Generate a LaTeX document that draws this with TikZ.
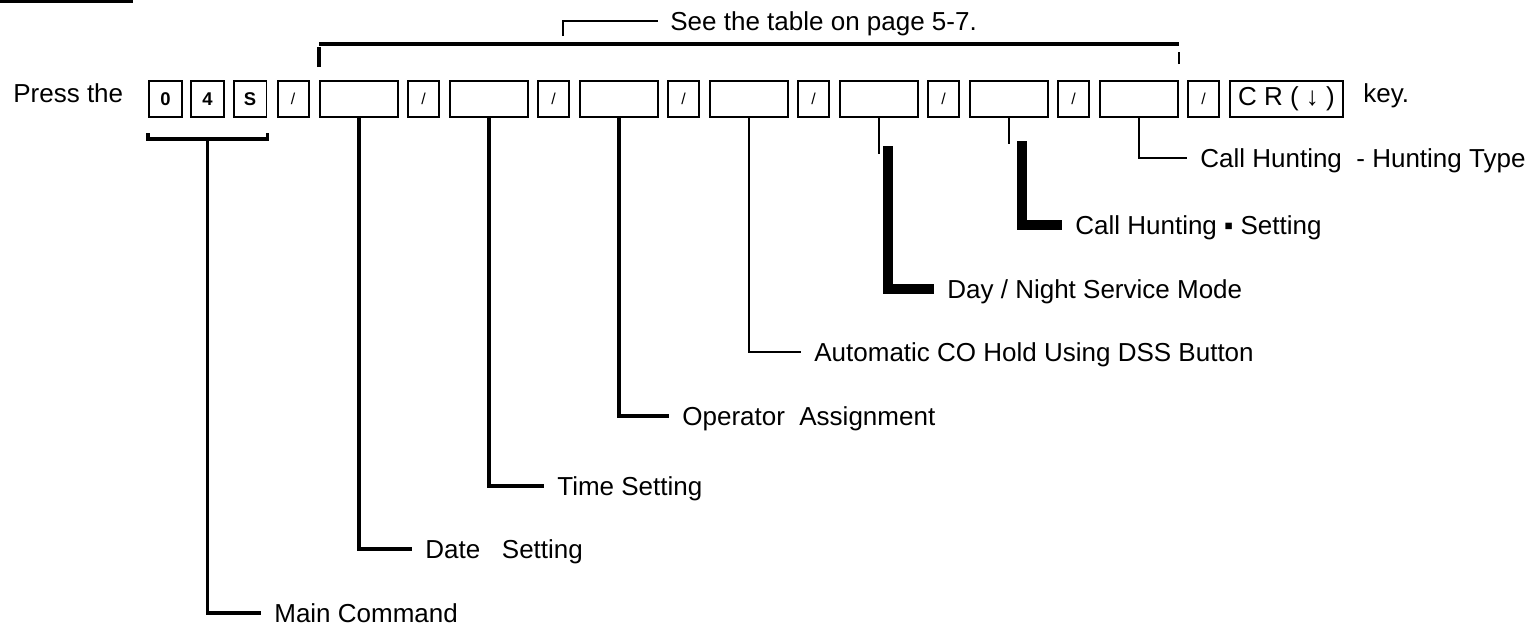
\documentclass[tikz,border=0pt]{standalone}
\usepackage{fontspec}
\setmainfont{Liberation Sans}

\tikzset{
  key/.style={draw, line width=0.04cm, minimum width=0.66cm, minimum height=0.72cm, inner sep=0pt, font=\bfseries\fontsize{10.5}{12}\selectfont},
  slashkey/.style={key, minimum width=0.62cm, font=\fontsize{9}{10}\selectfont},
  entry/.style={draw, line width=0.04cm, minimum width=1.56cm, minimum height=0.72cm, inner sep=0pt},
  crkey/.style={draw, line width=0.04cm, minimum width=2.26cm, minimum height=0.72cm, inner sep=0pt},
  lbl/.style={anchor=west, inner sep=0pt, text height=10.6pt, text depth=0pt},
  lead/.style={line width=0.07cm},
  thinlead/.style={line width=0.04cm},
  fatlead/.style={line width=0.2cm},
}

\begin{document}
\begin{tikzpicture}[x=0.02cm, y=-0.02cm, font=\fontsize{14.8}{17}\selectfont]
    \useasboundingbox (0,0) rectangle (1535,627);

    % rule at the top of the page
    \draw[line width=0.08cm] (0,1) -- (133,1);

    % the key row
    \node[lbl] (press) at (13,93) {Press the};
    \node[key] (k0) at (165.5,99) {0};
    \node[key] (k4) at (207.5,99) {4};
    \node[key] (kS) at (250,99) {S};
    \node[slashkey] (sl) at (293,99) {/};

    \node[entry] (e0) at (359,99) {};
    \node[slashkey] (s0) at (423.5,99) {/};
    \node[entry] (e1) at (489,99) {};
    \node[slashkey] (s1) at (553.5,99) {/};
    \node[entry] (e2) at (619,99) {};
    \node[slashkey] (s2) at (683.5,99) {/};
    \node[entry] (e3) at (749,99) {};
    \node[slashkey] (s3) at (813.5,99) {/};
    \node[entry] (e4) at (879,99) {};
    \node[slashkey] (s4) at (943.5,99) {/};
    \node[entry] (e5) at (1009,99) {};
    \node[slashkey] (s5) at (1073.5,99) {/};
    \node[entry] (e6) at (1139,99) {};
    \node[slashkey] (s6) at (1203.5,99) {/};
    \node[crkey] (cr) at (1286.5,99) {C R ( ↓ )};
    \node[lbl] (keyword) at (1363,93) {key.};

    % bracket over the entries
    \node[lbl] (seetab) at (670,21) {See the table on page 5-7.};
    \coordinate (seefoot) at (563,36);
    \draw[thinlead, shorten >=0.24cm] (seefoot) |- (seetab.west);
    \draw[lead] ([yshift=0.72cm]e0.north west) -- ([yshift=0.72cm]e6.north east);
    \draw[lead] ([yshift=0.26cm]e0.north west) -- ([yshift=0.66cm]e0.north west);
    \draw[thinlead] ([yshift=0.32cm]e6.north east) -- ([yshift=0.56cm]e6.north east);

    % labels
    \node[lbl] (hunttype) at (1200,158) {Call Hunting\ \ - Hunting Type};
    \node[lbl] (huntset) at (1075,225) {Call Hunting ▪ Setting};
    \node[lbl] (daynight) at (947,289) {Day / Night Service Mode};
    \node[lbl] (cohold) at (814,352) {Automatic CO Hold Using DSS Button};
    \node[lbl] (operator) at (682,416) {Operator\ \ Assignment};
    \node[lbl] (timeset) at (557,486) {Time Setting};
    \node[lbl] (dateset) at (425,549) {Date\ \ \ Setting};
    \node[lbl] (maincmd) at (274,613) {Main Command};

    % main command bracket
    \draw[lead] ([yshift=-0.30cm]k0.south west) -- ([yshift=-0.42cm]k0.south west) -| ([yshift=-0.30cm]kS.south east);
    \draw[lead, shorten >=0.26cm] ([yshift=-0.42cm]k4.south) |- (maincmd.west);

    % leaders
    \draw[lead, shorten >=0.26cm] (e0.south) |- (dateset.west);
    \draw[lead, shorten >=0.26cm] (e1.south) |- (timeset.west);
    \draw[lead, shorten >=0.26cm] (e2.south) |- (operator.west);
    \draw[thinlead, shorten >=0.26cm] (e3.south) |- (cohold.west);
    \draw[thinlead] (e4.south) -- ++(0,36);
    \draw[fatlead, shorten >=0.26cm] ([xshift=0.18cm,yshift=-0.56cm]e4.south) |- (daynight.west);
    \draw[thinlead] (e5.south) -- ++(0,26);
    \draw[fatlead, shorten >=0.26cm] ([xshift=0.26cm,yshift=-0.46cm]e5.south) |- (huntset.west);
    \draw[thinlead, shorten >=0.26cm] (e6.south) |- (hunttype.west);
\end{tikzpicture}
\end{document}
